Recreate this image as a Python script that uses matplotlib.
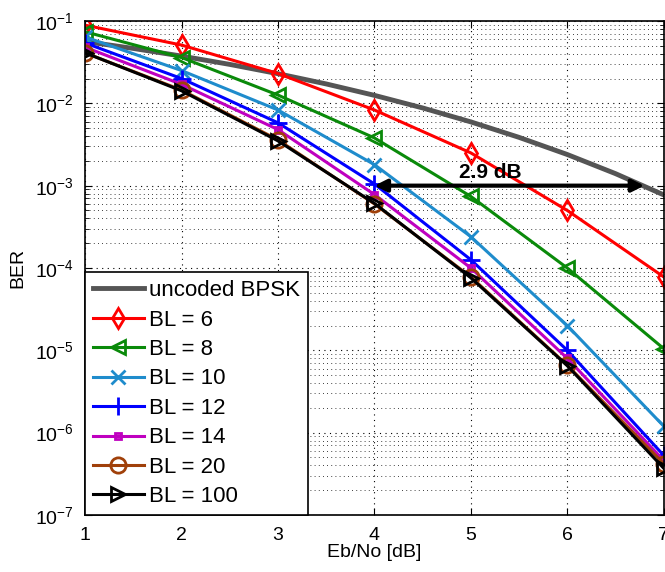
import matplotlib
matplotlib.use("Agg")
import matplotlib.pyplot as plt
from matplotlib.ticker import LogLocator, NullFormatter

plt.rcParams["font.family"] = ["Liberation Sans", "DejaVu Sans"]
plt.rcParams["mathtext.fontset"] = "custom"
plt.rcParams["mathtext.rm"] = "Liberation Sans"

# uncoded BPSK (valores leidos cada 0.5 dB)
ebno_ref = [1.0, 1.5, 2.0, 2.5, 3.0, 3.5, 4.0, 4.5, 5.0, 5.5, 6.0, 6.5, 7.0]
ber_ref = [5.63e-2, 4.64e-2, 3.75e-2, 2.97e-2, 2.29e-2, 1.72e-2, 1.25e-2,
           8.79e-3, 5.95e-3, 3.86e-3, 2.39e-3, 1.40e-3, 7.73e-4]

ebno = [1, 2, 3, 4, 5, 6, 7]
ber_bl6 = [8.9e-2, 5.1e-2, 2.3e-2, 8.3e-3, 2.5e-3, 5.0e-4, 7.8e-5]
ber_bl8 = [7.4e-2, 3.6e-2, 1.26e-2, 3.8e-3, 7.4e-4, 1.0e-4, 1.05e-5]
ber_bl10 = [6.4e-2, 2.5e-2, 8.3e-3, 1.8e-3, 2.4e-4, 2.0e-5, 1.2e-6]
ber_bl12 = [5.4e-2, 2.0e-2, 5.8e-3, 1.05e-3, 1.26e-4, 1.0e-5, 5.3e-7]
ber_bl14 = [4.8e-2, 1.7e-2, 4.8e-3, 7.8e-4, 1.0e-4, 8.0e-6, 4.6e-7]
ber_bl20 = [4.1e-2, 1.45e-2, 3.6e-3, 6.0e-4, 7.8e-5, 6.6e-6, 4.2e-7]
ber_bl100 = [4.1e-2, 1.42e-2, 3.5e-3, 6.1e-4, 7.6e-5, 6.5e-6, 3.7e-7]

SERIES = [
    ("BL = 6", ber_bl6, "#ff0000", "d", 10),
    ("BL = 8", ber_bl8, "#0a8a0a", "<", 10),
    ("BL = 10", ber_bl10, "#1f8ccc", "x", 10),
    ("BL = 12", ber_bl12, "#0000ff", "+", 13),
    ("BL = 14", ber_bl14, "#bf00bf", "s", 5),
    ("BL = 20", ber_bl20, "#a0400a", "o", 11),
    ("BL = 100", ber_bl100, "#000000", ">", 10),
]

gain_x = [4.0, 6.8]
gain_y = 1e-3
gain_txt = "2.9 dB"

fig = plt.figure(figsize=(6.65, 5.72), dpi=100)
ax = fig.add_axes([0.128, 0.0997, 0.870, 0.8636])

ax.semilogy(ebno_ref, ber_ref, color="#555555", lw=3.5, label="uncoded BPSK")
for label, vals, color, mk, ms in SERIES:
    ax.semilogy(ebno, vals, color=color, lw=2.2, marker=mk, markersize=ms,
                markerfacecolor="none", markeredgewidth=2, label=label)

ax.annotate("", xy=(gain_x[0], gain_y), xytext=(gain_x[1], gain_y),
            arrowprops=dict(arrowstyle="<|-|>", color="black", lw=3,
                            mutation_scale=18, shrinkA=0, shrinkB=0))
ax.text(5.2, 1.45e-3, gain_txt, fontsize=15, fontweight="bold",
        ha="center", va="center")

ax.set_xlim(1, 7)
ax.set_ylim(1e-7, 1e-1)
ax.set_xticks(ebno)
ax.yaxis.set_major_locator(LogLocator(base=10, numticks=10))
ax.yaxis.set_minor_locator(LogLocator(base=10, subs=range(2, 10), numticks=10))
ax.yaxis.set_minor_formatter(NullFormatter())
ax.tick_params(which="both", direction="in", top=True, right=True, labelsize=14)
ax.tick_params(axis="x", pad=9)
ax.tick_params(axis="y", pad=8)
ax.tick_params(which="major", length=5)
ax.tick_params(which="minor", length=3)
ax.grid(True, which="major", ls=(0, (1, 4)), color="black", lw=0.8)
ax.grid(True, which="minor", axis="y", ls=(0, (1, 4)), color="black", lw=0.6)
for s in ax.spines.values():
    s.set_linewidth(1.2)

ax.set_xlabel("Eb/No [dB]", fontsize=14, labelpad=0)
ax.set_ylabel("BER", fontsize=14, labelpad=6)

leg = ax.legend(loc="lower left", borderaxespad=0, fontsize=16, handlelength=2.3,
                labelspacing=0.38, handletextpad=0.22, borderpad=0.35,
                fancybox=False, framealpha=1, edgecolor="black")
leg.get_frame().set_linewidth(1.2)

fig.savefig("out.png", dpi=100)
